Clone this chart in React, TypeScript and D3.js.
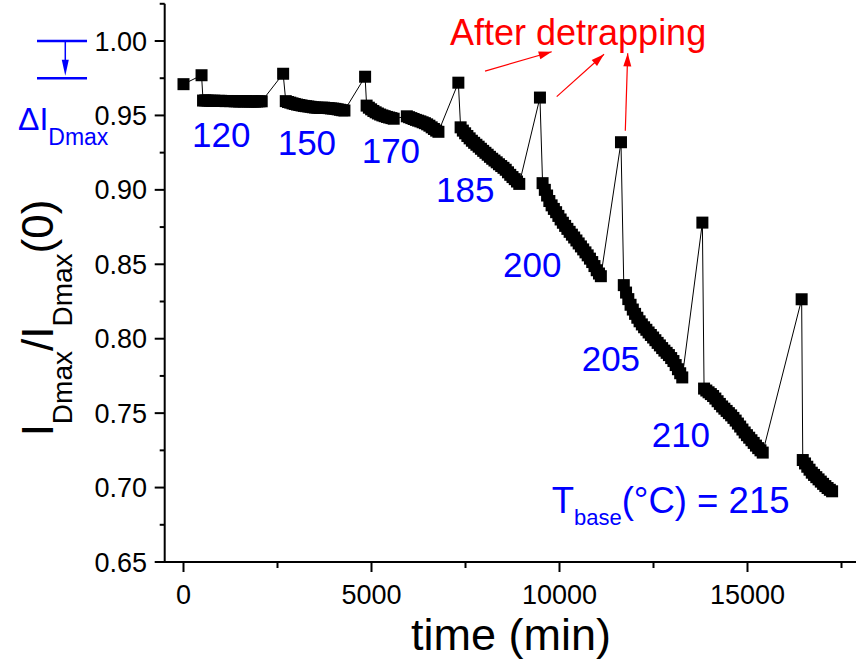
import React from 'react';
import * as d3 from 'd3';

// time (min) and normalized I_Dmax/I_Dmax(0), in acquisition order
const timeMin = [
  0, 480,
  520, 580, 640, 700, 760, 820, 880, 940, 1000, 1060, 1120, 1180, 1240, 1300, 1360, 1420, 1480, 1540, 1600, 1660, 1720, 1780, 1840, 1900, 1960, 2020, 2080,
  2650,
  2720, 2780, 2840, 2900, 2960, 3020, 3080, 3140, 3200, 3260, 3320, 3380, 3440, 3500, 3560, 3620, 3680, 3740, 3800, 3860, 3920, 3980, 4040, 4100, 4160, 4220, 4280,
  4830,
  4870, 4930, 4990, 5050, 5110, 5170, 5230, 5290, 5350, 5410, 5470, 5530, 5590,
  5940, 6000, 6060, 6120, 6180, 6240, 6300, 6360, 6420, 6480, 6540, 6600, 6660, 6720, 6780,
  7310,
  7370, 7430, 7490, 7550, 7610, 7670, 7730, 7790, 7850, 7910, 7970, 8030, 8090, 8150, 8210, 8270, 8330, 8390, 8450, 8510, 8570, 8630, 8690, 8750, 8810, 8870, 8930,
  9480,
  9550, 9610, 9670, 9730, 9790, 9850, 9910, 9970, 10030, 10090, 10150, 10210, 10270, 10330, 10390, 10450, 10510, 10570, 10630, 10690, 10750, 10810, 10870, 10930, 10990, 11050, 11100,
  11635,
  11710, 11770, 11830, 11890, 11950, 12010, 12070, 12130, 12190, 12250, 12310, 12370, 12430, 12490, 12550, 12610, 12670, 12730, 12790, 12850, 12910, 12970, 13030, 13090, 13150, 13210, 13265,
  13800,
  13845, 13905, 13965, 14025, 14085, 14145, 14205, 14265, 14325, 14385, 14445, 14505, 14565, 14625, 14685, 14745, 14805, 14865, 14925, 14985, 15045, 15105, 15165, 15225, 15285, 15345, 15405,
  16440,
  16470, 16530, 16590, 16650, 16710, 16770, 16830, 16890, 16950, 17010, 17070, 17130, 17190, 17250,
];

const ratio = [
  0.971, 0.977,
  0.96, 0.9601, 0.96, 0.9599, 0.9598, 0.9599, 0.9597, 0.9598, 0.9598, 0.9597, 0.9596, 0.9597, 0.9596, 0.9597, 0.9595, 0.9595, 0.9594, 0.9595, 0.9594, 0.9596, 0.9594, 0.9593, 0.9594, 0.9593, 0.9594, 0.9595, 0.9595,
  0.978,
  0.9596, 0.959, 0.9586, 0.9581, 0.9577, 0.9573, 0.957, 0.9567, 0.9564, 0.9562, 0.956, 0.9558, 0.9555, 0.9553, 0.9552, 0.9551, 0.9552, 0.9552, 0.955, 0.9549, 0.9547, 0.9546, 0.9544, 0.9541, 0.9538, 0.9535, 0.9533,
  0.976,
  0.9566, 0.9552, 0.9541, 0.953, 0.9521, 0.9513, 0.9506, 0.95, 0.9495, 0.949, 0.9486, 0.9482, 0.9478,
  0.9494, 0.9488, 0.9482, 0.9476, 0.947, 0.9465, 0.946, 0.9454, 0.9448, 0.944, 0.9431, 0.942, 0.9409, 0.9398, 0.939,
  0.972,
  0.942, 0.9398, 0.938, 0.9362, 0.9346, 0.933, 0.9316, 0.9303, 0.929, 0.9276, 0.9262, 0.9249, 0.9236, 0.9222, 0.9209, 0.9197, 0.9185, 0.9172, 0.916, 0.9148, 0.9135, 0.9118, 0.9101, 0.9086, 0.9072, 0.9056, 0.904,
  0.962,
  0.9045, 0.9, 0.8962, 0.8925, 0.8896, 0.8872, 0.885, 0.8825, 0.8801, 0.8779, 0.8758, 0.8738, 0.8718, 0.8699, 0.868, 0.866, 0.864, 0.862, 0.86, 0.858, 0.856, 0.8538, 0.8515, 0.8488, 0.846, 0.8438, 0.842,
  0.932,
  0.836, 0.831, 0.8266, 0.8228, 0.8196, 0.8167, 0.8141, 0.8117, 0.8096, 0.8077, 0.806, 0.8042, 0.8025, 0.8008, 0.799, 0.7972, 0.7955, 0.7937, 0.792, 0.7905, 0.789, 0.787, 0.785, 0.7823, 0.7795, 0.7768, 0.774,
  0.878,
  0.7665, 0.7652, 0.764, 0.7628, 0.7615, 0.7598, 0.758, 0.7562, 0.7545, 0.753, 0.7515, 0.75, 0.7485, 0.7468, 0.745, 0.743, 0.741, 0.739, 0.737, 0.7352, 0.7335, 0.7318, 0.73, 0.7282, 0.7265, 0.725, 0.7235,
  0.8265,
  0.7185, 0.7162, 0.714, 0.712, 0.71, 0.7085, 0.707, 0.7055, 0.704, 0.7025, 0.701, 0.6997, 0.6985, 0.6975,
];

const xMajorTicks = [0, 5000, 10000, 15000];
const xMinorTicks = [2500, 7500, 12500, 17500];
const yMajorTicks = [0.65, 0.7, 0.75, 0.8, 0.85, 0.9, 0.95, 1.0];
const yMinorTicks = [0.675, 0.725, 0.775, 0.825, 0.875, 0.925, 0.975, 1.025];

const stageLabels = ['120', '150', '170', '185', '200', '205', '210'];
const stageLabelTime = [226, 2505, 4739, 6715, 8497, 10590, 12452];
const stageLabelRatio = [0.9288, 0.9234, 0.9178, 0.892, 0.8413, 0.7785, 0.7271];

// red arrows: [t1, r1, t2, r2]
const detrapArrows = [
  [8019, 0.9798, 9793, 0.9928],
  [9926, 0.9626, 11184, 0.9911],
  [11750, 0.9397, 11814, 0.9917],
];

const W = 856;
const H = 663;
const FONT = 'Liberation Sans, Arial, Helvetica, sans-serif';
const BLUE = '#0000ff';
const RED = '#ff0000';

function head(x1: number, y1: number, x2: number, y2: number, len: number, hw: number) {
  const a = Math.atan2(y2 - y1, x2 - x1);
  const c = Math.cos(a), s = Math.sin(a);
  const bx = x2 - len * c, by = y2 - len * s;
  return `M${x2},${y2}L${bx - hw * s},${by + hw * c}L${bx + hw * s},${by - hw * c}Z`;
}

export default function App() {
  const x = d3.scaleLinear().domain([0, 15000]).range([183.5, 747.5]);
  const y = d3.scaleLinear().domain([0.65, 1.0]).range([562, 41]);
  const x0 = x(-500);
  const yBase = y(0.65);
  const yTop = y(1.025);

  const pts = timeMin.map((t, i) => [x(t), y(ratio[i])] as [number, number]);
  const line = d3.line()(pts) || '';
  const ms = 12;

  return (
    <svg width={W} height={H} style={{ position: 'absolute', left: 0, top: 0, background: '#fff' }} fontFamily={FONT}>
      <rect x={0} y={0} width={W} height={H} fill="#fff" />
      {/* axes */}
      <line x1={x0} y1={yTop} x2={x0} y2={yBase + 1} stroke="#000" strokeWidth={2} />
      <line x1={x0 - 1} y1={yBase} x2={W} y2={yBase} stroke="#000" strokeWidth={2} />
      {yMajorTicks.map((v) => (
        <g key={'ym' + v}>
          <line x1={x0 - 10} x2={x0} y1={y(v)} y2={y(v)} stroke="#000" strokeWidth={2} />
          <text x={147} y={y(v) + 9.5} fontSize={27} textAnchor="end" fill="#000">{v.toFixed(2)}</text>
        </g>
      ))}
      {yMinorTicks.map((v) => (
        <line key={'yn' + v} x1={x0 - 5} x2={x0} y1={y(v)} y2={y(v)} stroke="#000" strokeWidth={2} />
      ))}
      {xMajorTicks.map((t) => (
        <g key={'xm' + t}>
          <line x1={x(t)} x2={x(t)} y1={yBase} y2={yBase + 10} stroke="#000" strokeWidth={2} />
          <text x={x(t)} y={604} fontSize={27} textAnchor="middle" fill="#000">{t}</text>
        </g>
      ))}
      {xMinorTicks.map((t) => (
        <line key={'xn' + t} x1={x(t)} x2={x(t)} y1={yBase} y2={yBase + 6} stroke="#000" strokeWidth={2} />
      ))}
      {/* axis titles */}
      <text x={511} y={650} fontSize={45} textAnchor="middle" fill="#000">time (min)</text>
      <text transform="translate(53,318) rotate(-90)" fontSize={44} textAnchor="middle" fill="#000">
        I<tspan fontSize={28} dy={19}>Dmax</tspan>
        <tspan dy={-19}>/I</tspan>
        <tspan fontSize={28} dy={19}>Dmax</tspan>
        <tspan dy={-19}>(0)</tspan>
      </text>
      {/* data */}
      <path d={line} fill="none" stroke="#000" strokeWidth={1} />
      {pts.map(([px, py], i) => (
        <rect key={i} x={px - ms / 2} y={py - ms / 2} width={ms} height={ms} fill="#000" />
      ))}
      {/* stage labels */}
      {stageLabels.map((s, i) => (
        <text key={s} x={x(stageLabelTime[i])} y={y(stageLabelRatio[i])} fontSize={35} fill={BLUE}>{s}</text>
      ))}
      <text x={x(9793)} y={y(0.6827)} fontSize={36.5} fill={BLUE}>
        T<tspan fontSize={22} dy={12}>base</tspan>
        <tspan dy={-12}>(°C) = 215</tspan>
      </text>
      {/* delta I annotation */}
      <line x1={x(-3896)} x2={x(-2566)} y1={y(1.0)} y2={y(1.0)} stroke={BLUE} strokeWidth={2.5} />
      <line x1={x(-3896)} x2={x(-2566)} y1={y(0.975)} y2={y(0.975)} stroke={BLUE} strokeWidth={2.5} />
      <line x1={x(-3144)} x2={x(-3144)} y1={y(1.0)} y2={y(0.975) - 12} stroke={BLUE} strokeWidth={1.5} />
      <path d={head(x(-3144), y(1.0), x(-3144), y(0.975) - 2.5, 16, 3.5)} fill={BLUE} />
      <text x={18} y={130} fontSize={32} fill={BLUE}>
        ΔI<tspan fontSize={23} dy={15}>Dmax</tspan>
      </text>
      {/* after detrapping */}
      <text x={x(7088)} y={y(0.9973)} fontSize={36} fill={RED}>After detrapping</text>
      {detrapArrows.map(([t1, r1, t2, r2], i) => {
        const ax1 = x(t1), ay1 = y(r1), ax2 = x(t2), ay2 = y(r2);
        return (
          <g key={'a' + i}>
            <line x1={ax1} y1={ay1} x2={ax2} y2={ay2} stroke={RED} strokeWidth={1.2} />
            <path d={head(ax1, ay1, ax2, ay2, 13, 4)} fill={RED} />
          </g>
        );
      })}
    </svg>
  );
}
